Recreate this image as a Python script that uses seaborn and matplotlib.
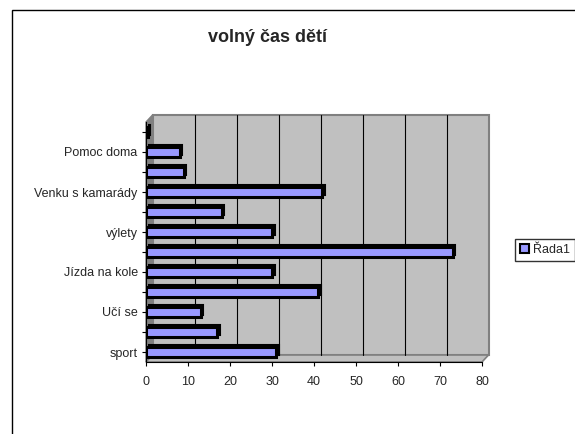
import numpy as np
import pandas as pd
import matplotlib
matplotlib.use("Agg")
import matplotlib.pyplot as plt
import matplotlib.transforms as mtransforms
from matplotlib.patches import Rectangle, Patch, Polygon
import seaborn as sns

# data, bottom to top (Excel only labels every other row)
labels = ["sport", "", "Učí se", "", "Jízda na kole", "", "výlety", "",
          "Venku s kamarády", "", "Pomoc doma", ""]
values = [31, 17, 13, 41, 30, 73, 30, 18, 42, 9, 8, 0.4]
series_name = "Řada1"
x_ticks = [0, 10, 20, 30, 40, 50, 60, 70, 80]

sns.set_style("white")
plt.rcParams['font.family'] = ['Liberation Sans', 'DejaVu Sans']

df = pd.DataFrame({"pos": np.arange(len(values)), "value": values})
order = list(range(len(values)))[::-1]  # top row first

fig = plt.figure(figsize=(5.75, 4.34), dpi=100)
ax = fig.add_axes([146 / 575, 1 - 362 / 434, 336 / 575, 240 / 434])
ax.patch.set_visible(False)

# fake 3D box: back wall shifted up/right, dark side wall, floor
DX, DY = 6.5, 7.0  # pixels
dx, dy = DX / 336, DY / 240
back = mtransforms.ScaledTranslation(DX / 100, DY / 100, fig.dpi_scale_trans)
ax.add_patch(Rectangle((0, 0), 1, 1, transform=ax.transAxes + back,
                       facecolor="#c0c0c0", edgecolor="#808080", linewidth=1.5,
                       zorder=0.1, clip_on=False))
ax.add_patch(Polygon([(0, 0), (0, 1), (dx, 1 + dy), (dx, dy)], closed=True,
                     transform=ax.transAxes, facecolor="#808080",
                     edgecolor="#808080", zorder=0.2, clip_on=False))
ax.add_patch(Polygon([(0, 0), (1, 0), (1 + dx, dy), (dx, dy)], closed=True,
                     transform=ax.transAxes, facecolor="#c0c0c0",
                     edgecolor="#808080", linewidth=1.2, zorder=0.2, clip_on=False))
grid_tr = mtransforms.blended_transform_factory(ax.transData, ax.transAxes) + back
for t in x_ticks[1:-1]:
    ax.plot([t, t], [0, 1], color="black", linewidth=0.8, transform=grid_tr,
            zorder=0.3, clip_on=False)

# shadow bars (3D look), shifted a few pixels right/up
sns.barplot(data=df, x="value", y="pos", order=order, orient="h",
            color="black", width=0.5, ax=ax, saturation=1)
shadow = [p for p in ax.patches if p.get_facecolor()[:3] == (0.0, 0.0, 0.0)]
off = mtransforms.offset_copy(ax.transData, fig=fig, x=2.5, y=2.5, units="dots")
for p in shadow:
    p.set_transform(off)
    p.set_edgecolor("black")
    p.set_linewidth(1.5)

sns.barplot(data=df, x="value", y="pos", order=order, orient="h",
            color="#9999ff", width=0.5, ax=ax, saturation=1,
            edgecolor="black", linewidth=2.2)

ax.set_xlim(0, 80)
ax.set_xticks(x_ticks)
ax.set_xticklabels([str(t) for t in x_ticks], fontsize=9)
ax.set_yticks(range(len(labels)))
ax.set_yticklabels(labels[::-1], fontsize=9)
ax.set_xlabel("")
ax.set_ylabel("")
ax.tick_params(axis="both", length=3, color="black", pad=3, direction="out")
ax.tick_params(axis="x", bottom=True, pad=7)
ax.tick_params(axis="y", left=True)
for side in ["top", "right"]:
    ax.spines[side].set_visible(False)
ax.spines["left"].set_color("black")
ax.spines["bottom"].set_color("black")
ax.spines["left"].set_linewidth(0.8)
ax.spines["bottom"].set_linewidth(0.8)

fig.text(268 / 575, 1 - 38 / 434, "volný čas dětí", ha="center", va="center",
         fontsize=13, fontweight="bold")

# chart area frame
fig.patches.append(Rectangle((12 / 575, -0.01), 1, 1 - 10 / 434 + 0.01,
                             transform=fig.transFigure, fill=False,
                             edgecolor="black", linewidth=1))

handle = Patch(facecolor="#9999ff", edgecolor="black", linewidth=1.5)
fig.legend([handle], [series_name], loc="center left",
           bbox_to_anchor=(515 / 575, 1 - 250 / 434), frameon=True,
           fancybox=False, edgecolor="black", fontsize=9,
           handlelength=0.7, handleheight=0.7, handletextpad=0.3,
           borderpad=0.4, borderaxespad=0)

fig.savefig("out.png", dpi=100)
